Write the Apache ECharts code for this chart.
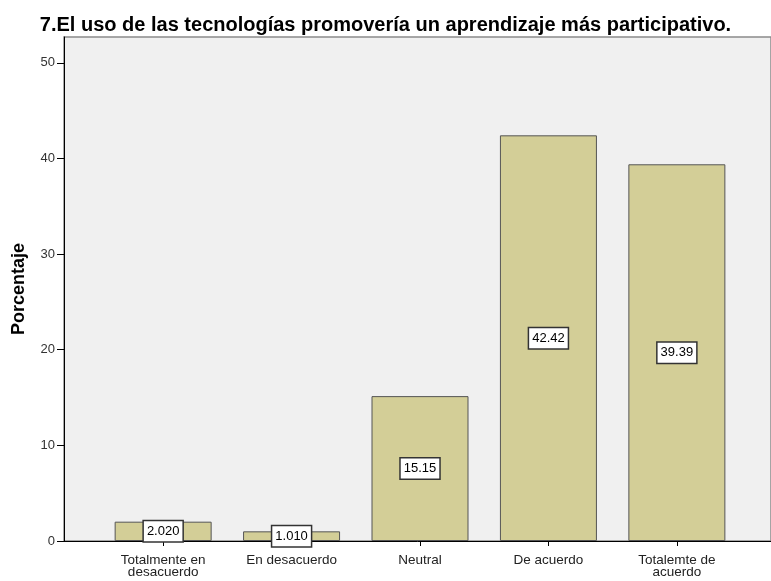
<!DOCTYPE html>
<html>
<head>
<meta charset="utf-8">
<script src="https://cdn.jsdelivr.net/npm/echarts@6/dist/echarts.min.js"></script>
<style>
html, body { margin: 0; padding: 0; background: #fff; }
#chart { width: 771px; height: 581px; }
</style>
</head>
<body>
<div id="chart"></div>
<script>
var titleText = '7.El uso de las tecnologías promovería un aprendizaje más participativo.';
var categories = ['Totalmente en\ndesacuerdo', 'En desacuerdo', 'Neutral', 'De acuerdo', 'Totalemte de\nacuerdo'];
var percents = [2.02, 1.01, 15.15, 42.42, 39.39];
var barLabels = ['2.020', '1.010', '15.15', '42.42', '39.39'];
var yTicks = [0, 10, 20, 30, 40, 50];
var xTicks = [0, 1, 2, 3, 4];

var fontFam = 'Liberation Sans, Arial, sans-serif';

// bars sit on a value axis so the padding at both ends matches the picture
var barData = [];
for (var i = 0; i < percents.length; i++) {
	barData.push([i, percents[i]]);
}

var chart = echarts.init(document.getElementById('chart'));
chart.setOption({
	backgroundColor: '#fff',
	animation: false,
	title: {
		text: titleText,
		left: 'center',
		top: 10,
		textStyle: { fontFamily: fontFam, fontSize: 20, fontWeight: 'bold', color: '#000' }
	},
	grid: {
		left: 64, right: -1, top: 37, bottom: 40,
		show: true,
		backgroundColor: '#f0f0f0',
		borderColor: '#8a8a8a',
		borderWidth: 1.5
	},
	xAxis: {
		type: 'value',
		min: -0.772,
		max: 4.733,
		splitLine: { show: false },
		axisLine: { show: true, onZero: false, lineStyle: { color: '#000', width: 1 } },
		axisTick: { show: true, length: 5, customValues: xTicks, lineStyle: { color: '#000' } },
		axisLabel: {
			customValues: xTicks,
			formatter: function (v) { return categories[Math.round(v)]; },
			fontFamily: fontFam, fontSize: 13.5, color: '#222', lineHeight: 12, margin: 13
		}
	},
	yAxis: {
		type: 'value',
		min: 0,
		max: 52.7,
		interval: 10,
		name: 'Porcentaje',
		nameLocation: 'middle',
		nameGap: 36,
		nameTextStyle: { fontFamily: fontFam, fontSize: 18, fontWeight: 'bold', color: '#000' },
		splitLine: { show: false },
		axisLine: { show: true, onZero: false, lineStyle: { color: '#000', width: 1 } },
		axisTick: { show: true, length: 7, customValues: yTicks, lineStyle: { color: '#000' } },
		axisLabel: {
			customValues: yTicks,
			fontFamily: fontFam, fontSize: 13, color: '#333', margin: 9
		}
	},
	series: [{
		type: 'bar',
		data: barData,
		barWidth: 97,
		itemStyle: { color: '#d3ce97', borderColor: '#555', borderWidth: 1 },
		label: {
			show: true,
			position: 'inside',
			formatter: function (p) { return barLabels[p.dataIndex]; },
			fontFamily: fontFam, fontSize: 13, color: '#000',
			backgroundColor: '#fff',
			borderColor: '#333',
			borderWidth: 1.5,
			padding: [4, 3, 3, 3]
		}
	}]
});
</script>
</body>
</html>
